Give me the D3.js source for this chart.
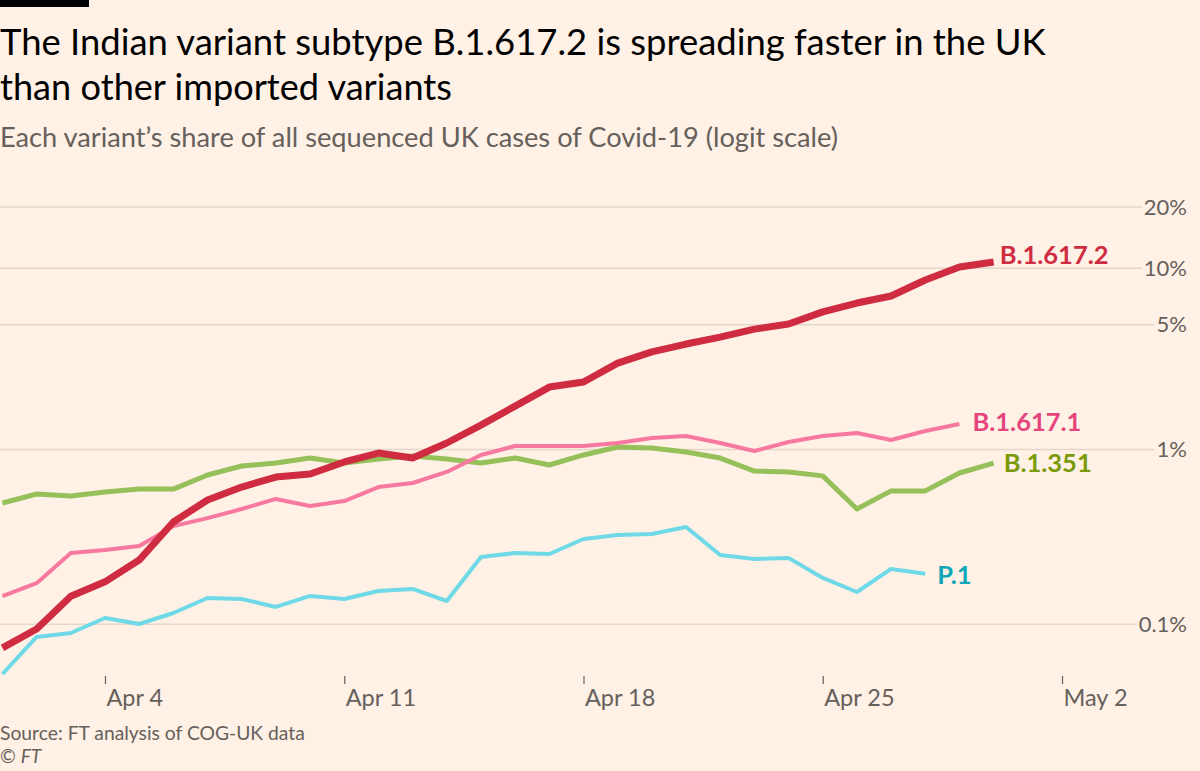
<!DOCTYPE html>
<html>
<head>
<meta charset="utf-8">
<script src="https://cdn.jsdelivr.net/npm/d3@7"></script>
<style>
  html, body { margin: 0; padding: 0; background: #fff1e5; }
  svg { display: block; }
  text { font-family: "Lato", "Open Sans", sans-serif; }
</style>
</head>
<body>
<svg id="chart" width="1200" height="771"></svg>
<script>
// ---- data (shares in %), daily from Apr 1 2021 ----
const startDate = "2021-04-01";
const seriesNames = ["B.1.351", "B.1.617.1", "P.1", "B.1.617.2"];
const b1351 = [0.492,0.554,0.540,0.569,0.591,0.591,0.711,0.800,0.832,0.888,0.832,0.877,0.912,0.877,0.832,0.888,0.811,0.925,1.026,1.013,0.961,0.888,0.749,0.740,0.703,0.455,0.577,0.577,0.730,0.832];
const b16171 = [0.144,0.171,0.255,0.265,0.279,0.363,0.403,0.455,0.519,0.473,0.505,0.607,0.640,0.740,0.925,1.040,1.040,1.040,1.082,1.154,1.185,1.082,0.974,1.096,1.185,1.233,1.125,1.265,1.386];
const p1 = [0.0515,0.0840,0.0885,0.1079,0.0997,0.1153,0.1406,0.1388,0.1249,0.1444,0.1388,0.1543,0.1585,0.1351,0.2415,0.2545,0.2513,0.3062,0.3228,0.3274,0.3590,0.2478,0.2355,0.2387,0.1832,0.1522,0.2063,0.1934];
const b16172 = [0.0727,0.0934,0.144,0.174,0.232,0.383,0.512,0.607,0.692,0.720,0.844,0.948,0.889,1.082,1.367,1.75,2.24,2.39,3.05,3.52,3.89,4.25,4.70,5.01,5.83,6.51,7.10,8.63,10.08,10.71];
const yTicks = [0.1, 1, 5, 10, 20];
const yTickLabels = ["0.1%", "1%", "5%", "10%", "20%"];
const xTicks = ["2021-04-04", "2021-04-11", "2021-04-18", "2021-04-25", "2021-05-02"];
const xTickLabels = ["Apr 4", "Apr 11", "Apr 18", "Apr 25", "May 2"];
const lineColors = ["#96c05a", "#f7799f", "#6fd9e7", "#cf2c42"];
const labelColors = ["#7b9a08", "#e5457c", "#0fa6ba", "#cf2c42"];
const lineWidths = [5, 4, 4, 7];
const labelDx = [10, 13, 12, 6];
const labelDy = [0, -2, 1, -7];

const parse = d3.utcParse("%Y-%m-%d");
const t0 = parse(startDate);
const day = 86400000;
const toSeries = arr => arr.map((v, i) => ({date: new Date(+t0 + i * day), value: v}));
const allSeries = [b1351, b16171, p1, b16172].map(toSeries);

const svg = d3.select("#chart");
svg.append("rect").attr("width", 1200).attr("height", 771).attr("fill", "#fff1e5");
svg.append("rect").attr("x", 0).attr("y", 0).attr("width", 89).attr("height", 7).attr("fill", "#000");

// fit a text element's font size so that it spans a target width
function fit(sel, target) {
  const fs = +sel.attr("font-size");
  const w = sel.node().getComputedTextLength();
  if (w > 0) sel.attr("font-size", (fs * target / w).toFixed(2));
  return sel;
}

// titles
fit(svg.append("text").attr("x", 0).attr("y", 55).attr("font-size", 34).attr("fill", "#000")
  .text("The Indian variant subtype B.1.617.2 is spreading faster in the UK"), 1046);
fit(svg.append("text").attr("x", 0).attr("y", 100).attr("font-size", 34).attr("fill", "#000")
  .text("than other imported variants"), 452);
fit(svg.append("text").attr("x", 0).attr("y", 147).attr("font-size", 23).attr("fill", "#66605c")
  .text("Each variant\u2019s share of all sequenced UK cases of Covid-19 (logit scale)"), 838);

// scales
const logit = p => Math.log(p / (1 - p));
const yLin = d3.scaleLinear().domain([logit(0.01), logit(0.10)]).range([449, 267.7]);
const y = pct => yLin(logit(pct / 100));

const x = d3.scaleUtc()
  .domain([parse("2021-04-04"), parse("2021-05-02")])
  .range([105, 1062]);

// gridlines + y labels
const yAxis = d3.axisRight(yLin)
  .tickValues(yTicks.map(v => logit(v / 100)))
  .tickFormat((d, i) => yTickLabels[i])
  .tickSize(0);
const gy = svg.append("g").attr("transform", "translate(1187,0)").call(yAxis);
gy.select(".domain").remove();
gy.selectAll(".tick text")
  .attr("x", 0).attr("text-anchor", "end").attr("dy", "0.35em")
  .attr("font-size", 22).attr("fill", "#66605c")
  .style("font-family", "Lato, 'Open Sans', sans-serif");
gy.selectAll(".tick").each(function() {
  const g = d3.select(this);
  const tw = g.select("text").node().getComputedTextLength();
  g.insert("line", "text")
    .attr("x1", -1187).attr("x2", -tw - 2)
    .attr("y1", 0).attr("y2", 0)
    .attr("stroke", "#e3d6cb").attr("stroke-width", 1.5);
});

// x axis
const xAxis = d3.axisBottom(x)
  .tickValues(xTicks.map(parse))
  .tickFormat((d, i) => xTickLabels[i])
  .tickSize(8);
const gx = svg.append("g").attr("transform", "translate(0,676)").call(xAxis);
gx.select(".domain").remove();
gx.selectAll(".tick line").attr("stroke", "#66605c").attr("stroke-width", 1.2);
gx.selectAll(".tick text")
  .attr("text-anchor", "start").attr("x", 1).attr("y", 30).attr("dy", 0)
  .attr("font-size", 23.5).attr("fill", "#66605c")
  .style("font-family", "Lato, 'Open Sans', sans-serif");

// lines
const line = d3.line().x(d => x(d.date)).y(d => y(d.value)).curve(d3.curveLinear);
const order = [0, 1, 2, 3];
svg.append("g").selectAll("path").data(order).join("path")
  .attr("d", i => line(allSeries[i]))
  .attr("fill", "none")
  .attr("stroke", i => lineColors[i])
  .attr("stroke-width", i => lineWidths[i])
  .attr("stroke-linejoin", "round");

// end labels
svg.append("g").selectAll("text").data(order).join("text")
  .attr("x", i => x(allSeries[i][allSeries[i].length - 1].date) + labelDx[i])
  .attr("y", i => y(allSeries[i][allSeries[i].length - 1].value) + labelDy[i])
  .attr("dy", "0.35em")
  .attr("font-size", 25.5).attr("font-weight", "bold")
  .attr("fill", i => labelColors[i])
  .text(i => seriesNames[i]);

// source
fit(svg.append("text").attr("x", 0).attr("y", 740).attr("font-size", 18).attr("fill", "#66605c")
  .text("Source: FT analysis of COG-UK data"), 305);
const c = svg.append("text").attr("x", 0).attr("y", 763).attr("font-size", 19).attr("fill", "#66605c");
c.append("tspan").text("\u00a9 ");
c.append("tspan").attr("font-style", "italic").text("FT");
</script>
</body>
</html>
